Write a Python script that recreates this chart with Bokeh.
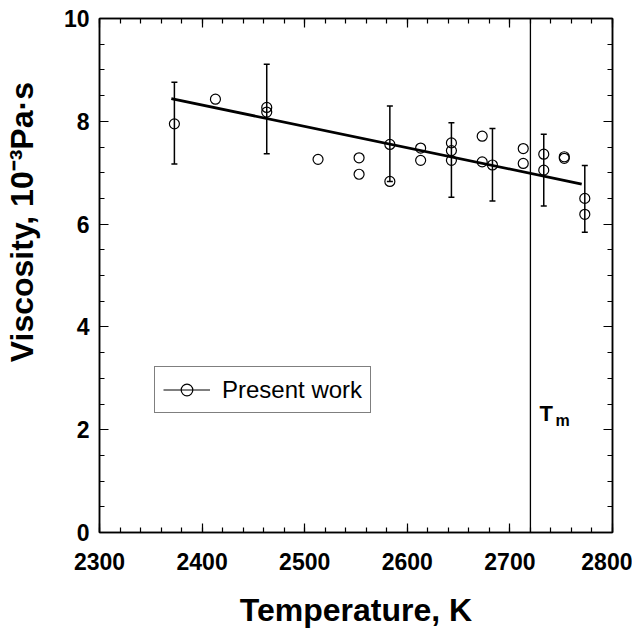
from bokeh.plotting import figure
from bokeh.models import (ColumnDataSource, Whisker, TeeHead, Span, Label, Legend,
                          LegendItem, LinearAxis, SingleIntervalTicker)
from bokeh.embed import file_html
from bokeh.resources import INLINE

# ---- data ----
temps = [2373, 2413, 2463, 2463, 2513, 2553, 2553, 2583, 2583, 2613, 2613,
         2643, 2643, 2643, 2673, 2673, 2683, 2713, 2713, 2733, 2733, 2753,
         2753, 2773, 2773]
visc = [7.95, 8.43, 8.27, 8.18, 7.26, 7.29, 6.97, 7.55, 6.83, 7.48, 7.24,
        7.58, 7.43, 7.24, 7.71, 7.21, 7.15, 7.47, 7.18, 7.36, 7.05, 7.31,
        7.28, 6.50, 6.19]

err_temps = [2373, 2463, 2583, 2643, 2683, 2733, 2773]
err_lower = [7.17, 7.37, 6.83, 6.52, 6.45, 6.35, 5.84]
err_upper = [8.76, 9.11, 8.30, 7.97, 7.86, 7.75, 7.14]

fit_temps = [2370, 2770]
fit_visc = [8.44, 6.78]

melting_point = 2720

x_ticks = [2300, 2400, 2500, 2600, 2700, 2800]
y_ticks = [0, 2, 4, 6, 8, 10]

FONT = "Liberation Sans"
NBSP = "\u00a0"

p = figure(width=632, height=630, x_range=(2300, 2800), y_range=(0, 10),
           output_backend="svg", toolbar_location=None,
           min_border_left=97, min_border_right=20, min_border_top=18,
           min_border_bottom=97)
p.xgrid.visible = False
p.ygrid.visible = False
p.outline_line_color = "black"
p.outline_line_width = 1.5
p.background_fill_color = "white"
p.border_fill_color = "white"

xt = SingleIntervalTicker(interval=100, num_minor_ticks=5)
yt = SingleIntervalTicker(interval=2, num_minor_ticks=4)


def style_axis(ax, show_labels):
    ax.axis_line_color = "black"
    ax.axis_line_width = 1.5
    ax.major_tick_line_color = "black"
    ax.minor_tick_line_color = "black"
    ax.major_tick_line_width = 1.2
    ax.minor_tick_line_width = 1.2
    ax.major_tick_in = 9
    ax.major_tick_out = 0
    ax.minor_tick_in = 5
    ax.minor_tick_out = 0
    if show_labels:
        ax.major_label_text_font = FONT
        ax.major_label_text_font_style = "bold"
        ax.major_label_text_font_size = "23px"
        ax.major_label_text_color = "black"
        ax.axis_label_text_font = FONT
        ax.axis_label_text_font_style = "bold"
        ax.axis_label_text_font_size = "32px"
        ax.axis_label_text_color = "black"
    else:
        ax.major_label_text_font_size = "0px"
        ax.major_label_standoff = 0


p.xaxis.ticker = xt
p.yaxis.ticker = yt
style_axis(p.xaxis[0], True)
style_axis(p.yaxis[0], True)
p.xaxis.major_label_standoff = 20
p.yaxis.major_label_standoff = 10
p.xaxis.axis_label = "Temperature, K"
p.xaxis.axis_label_standoff = 19
# leading non-breaking spaces lift the rotated title above the centre, as in the reference
p.yaxis.axis_label = NBSP * 12 + "Viscosity, 10\u207b\u00b3Pa\u00b7s"
p.yaxis.axis_label_standoff = 21

top_ax = LinearAxis(ticker=xt)
top_ax.major_label_overrides = {t: "" for t in x_ticks}
style_axis(top_ax, False)
p.add_layout(top_ax, "above")

right_ax = LinearAxis(ticker=yt)
right_ax.major_label_overrides = {t: "" for t in y_ticks}
style_axis(right_ax, False)
p.add_layout(right_ax, "right")

# melting point line
p.add_layout(Span(location=melting_point, dimension="height",
                  line_color="black", line_width=1.3))

# fit line
p.line(fit_temps, fit_visc, line_color="black", line_width=2.8)

# error bars
err_src = ColumnDataSource(dict(x=err_temps, lo=err_lower, hi=err_upper))
whisk = Whisker(source=err_src, base="x", lower="lo", upper="hi",
                line_color="black", line_width=1.5,
                upper_head=TeeHead(size=6, line_color="black", line_width=1.5),
                lower_head=TeeHead(size=6, line_color="black", line_width=1.5))
p.add_layout(whisk)

# data points
pts = p.scatter(temps, visc, marker="circle", size=10, fill_color=None,
                line_color="black", line_width=1.2)

# legend sample line (a single point: draws nothing in the plot, only in the legend)
legend_line = p.line(temps[:1], visc[:1], line_color="black", line_width=1)
legend = Legend(items=[LegendItem(label="Present work", renderers=[legend_line, pts])],
                location=(55, 119))
legend.border_line_color = "black"
legend.border_line_width = 1
legend.background_fill_color = "white"
legend.background_fill_alpha = 1
legend.label_text_font = FONT
legend.label_text_font_size = "24px"
legend.label_text_color = "black"
legend.padding = 8
legend.margin = 0
legend.spacing = 0
legend.glyph_width = 47
legend.glyph_height = 29
legend.label_height = 29
legend.label_standoff = 12
p.add_layout(legend, "center")

# T_m label
p.add_layout(Label(x=melting_point, y=0, x_offset=9, y_offset=119, text="T",
                   text_align="left", text_baseline="alphabetic",
                   text_font=FONT, text_font_style="bold",
                   text_font_size="22px", text_color="black"))
p.add_layout(Label(x=melting_point, y=0, x_offset=25, y_offset=112, text="m",
                   text_align="left", text_baseline="alphabetic",
                   text_font=FONT, text_font_style="bold",
                   text_font_size="16px", text_color="black"))

open("out.html", "w").write(file_html(p, INLINE))
